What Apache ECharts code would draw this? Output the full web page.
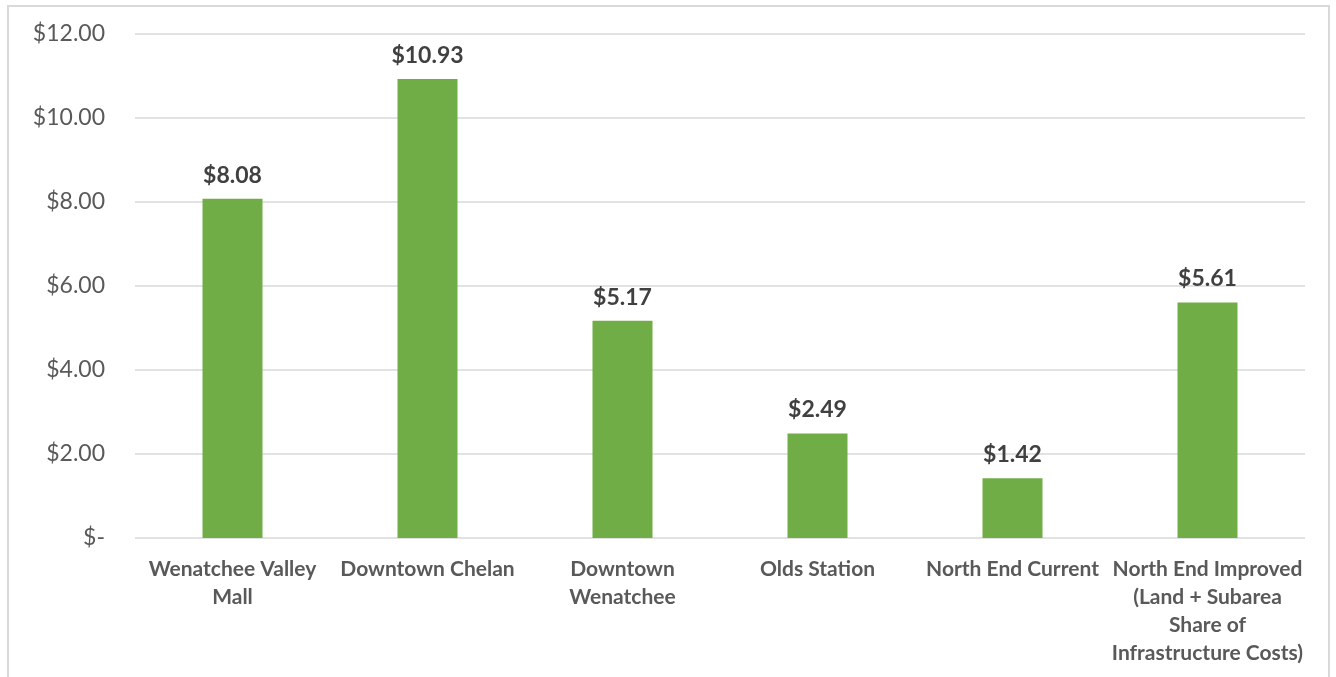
<!DOCTYPE html>
<html>
<head>
<meta charset="utf-8">
<script src="https://cdn.jsdelivr.net/npm/echarts@6/dist/echarts.min.js"></script>
<style>
html,body{margin:0;padding:0;background:#fff;}
#wrap{position:relative;width:1336px;height:677px;overflow:hidden;}
#frame{position:absolute;left:7px;top:5px;width:1323px;height:700px;border:2px solid #d9d9d9;box-sizing:border-box;}
#chart{position:absolute;left:0;top:0;width:1336px;height:677px;}
</style>
</head>
<body>
<div id="wrap"><div id="frame"></div><div id="chart"></div></div>
<script>
const categories = [
  "Wenatchee Valley\nMall",
  "Downtown Chelan",
  "Downtown\nWenatchee",
  "Olds Station",
  "North End Current",
  "North End Improved\n(Land + Subarea\nShare of\nInfrastructure Costs)"
];
const values = [8.08, 10.93, 5.17, 2.49, 1.42, 5.61];
const yTicks = [0, 2, 4, 6, 8, 10, 12];

const chart = echarts.init(document.getElementById('chart'));
chart.setOption({
  animation: false,
  textStyle: { fontFamily: 'Lato' },
  grid: { left: 135, right: 31, top: 34, bottom: 139 },
  xAxis: {
    type: 'category',
    data: categories,
    axisLine: { show: false },
    axisTick: { show: false },
    axisLabel: { color: '#595959', fontSize: 21, fontWeight: 'bold', fontFamily: 'Lato', lineHeight: 28, margin: 17, interval: 0, verticalAlign: 'top' }
  },
  yAxis: {
    type: 'value',
    min: yTicks[0],
    max: yTicks[yTicks.length - 1],
    interval: 2,
    axisLine: { show: false },
    axisTick: { show: false },
    splitLine: { lineStyle: { color: '#d9d9d9', width: 1.5 } },
    axisLabel: {
      color: '#595959', fontSize: 23, fontFamily: 'Lato', margin: 30,
      formatter: v => v === 0 ? '$-' : '$' + v.toFixed(2)
    }
  },
  series: [{
    type: 'bar',
    data: values,
    barWidth: 60,
    itemStyle: { color: '#70ad47' },
    label: {
      show: true, position: 'top', distance: 12,
      color: '#404040', fontSize: 23, fontWeight: 'bold', fontFamily: 'Lato',
      formatter: p => '$' + p.value.toFixed(2)
    }
  }]
});
</script>
</body>
</html>
